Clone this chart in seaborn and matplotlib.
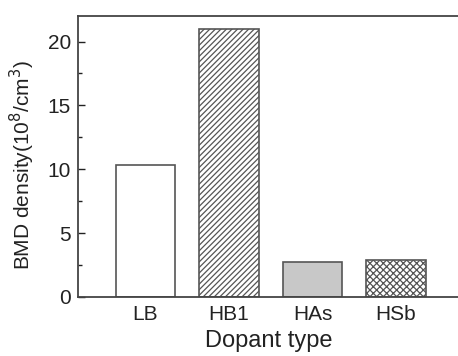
import matplotlib
matplotlib.use("Agg")
import pandas as pd
import seaborn as sns
import matplotlib.pyplot as plt
from matplotlib.ticker import MultipleLocator

dopants = ['LB', 'HB1', 'HAs', 'HSb']
bmd_density = [10.35, 21.0, 2.77, 2.88]
fills = ['white', 'white', '#c8c8c8', 'white']
hatches = ['', '//////', '', 'xxxxx']

df = pd.DataFrame({'Dopant': dopants, 'BMD': bmd_density})

sns.set_style('ticks')
plt.rcParams['font.family'] = ['Liberation Sans', 'DejaVu Sans']
plt.rcParams['hatch.color'] = '#444444'
plt.rcParams['hatch.linewidth'] = 0.9

fig = plt.figure(figsize=(4.58, 3.56), dpi=100)
ax = fig.add_axes([0.170, 0.166, 0.835, 0.789])

sns.barplot(data=df, x='Dopant', y='BMD', hue='Dopant', palette=fills,
            edgecolor='#555555', linewidth=1.2, width=0.71, legend=False, ax=ax)

for patch, h in zip(ax.patches, hatches):
    patch.set_hatch(h)

ax.set_xlim(-0.81, 3.77)
ax.set_ylim(0, 22)
ax.yaxis.set_major_locator(MultipleLocator(5))
ax.yaxis.set_minor_locator(MultipleLocator(2.5))
ax.tick_params(axis='y', which='both', direction='in', labelsize=15, colors='#222222', pad=5)
ax.tick_params(axis='y', which='major', length=5, width=1)
ax.tick_params(axis='y', which='minor', length=3, width=1)
ax.tick_params(axis='x', length=0, labelsize=15, pad=6, colors='#222222')

for side in ['left', 'top', 'bottom']:
    ax.spines[side].set_color('#444444')
    ax.spines[side].set_linewidth(1.3)
ax.spines['right'].set_visible(False)

ax.set_xlabel('Dopant type', fontsize=17, labelpad=4, color='#222222')
ax.set_ylabel('BMD density(10$^{8}$/cm$^{3}$)', fontsize=15, color='#222222')
ax.yaxis.set_label_coords(-0.108, 0.47)

fig.savefig('out.png', dpi=100)
